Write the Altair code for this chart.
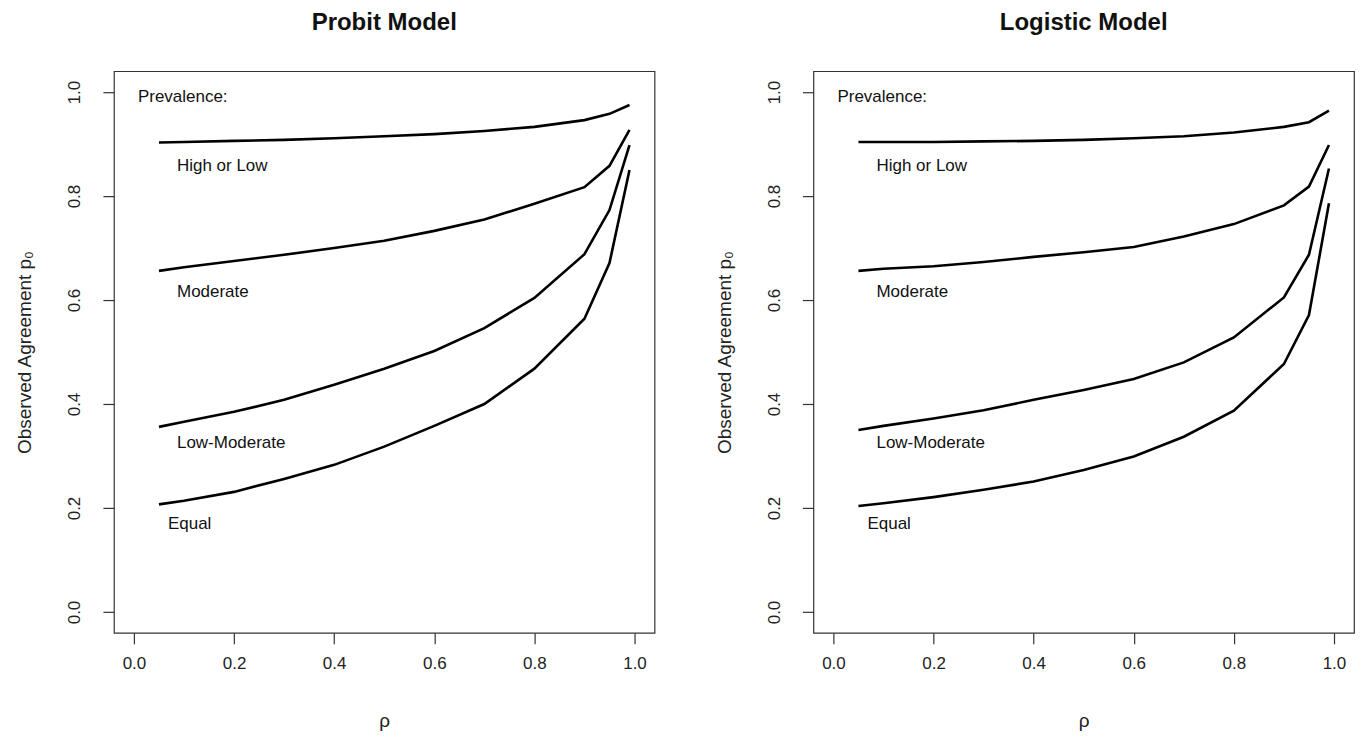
import altair as alt
import pandas as pd

# ---- data ----
rho = [0.05, 0.1, 0.2, 0.3, 0.4, 0.5, 0.6, 0.7, 0.8, 0.9, 0.95, 0.99]

series_names = ["High or Low", "Moderate", "Low-Moderate", "Equal"]

probit_high = [0.903, 0.904, 0.906, 0.908, 0.911, 0.915, 0.919, 0.925, 0.933, 0.946, 0.958, 0.975]
probit_moderate = [0.656, 0.663, 0.675, 0.687, 0.700, 0.714, 0.733, 0.755, 0.785, 0.817, 0.858, 0.927]
probit_lowmod = [0.356, 0.366, 0.385, 0.408, 0.437, 0.468, 0.502, 0.546, 0.604, 0.688, 0.773, 0.898]
probit_equal = [0.207, 0.214, 0.231, 0.256, 0.283, 0.318, 0.358, 0.400, 0.468, 0.564, 0.671, 0.850]

logit_high = [0.904, 0.904, 0.904, 0.905, 0.906, 0.908, 0.911, 0.915, 0.922, 0.933, 0.942, 0.964]
logit_moderate = [0.656, 0.660, 0.665, 0.673, 0.683, 0.692, 0.702, 0.722, 0.746, 0.782, 0.818, 0.898]
logit_lowmod = [0.350, 0.358, 0.372, 0.388, 0.408, 0.427, 0.448, 0.480, 0.528, 0.605, 0.687, 0.853]
logit_equal = [0.204, 0.209, 0.221, 0.235, 0.251, 0.273, 0.299, 0.337, 0.387, 0.477, 0.571, 0.786]

panel_titles = ["Probit Model", "Logistic Model"]

label_texts = ["Prevalence:", "High or Low", "Moderate", "Low-Moderate", "Equal"]
label_x = [0.008, 0.086, 0.086, 0.086, 0.068]
label_y = [0.99, 0.858, 0.615, 0.325, 0.169]

tick_values = [0.0, 0.2, 0.4, 0.6, 0.8, 1.0]

FONT = "Liberation Sans"


def curves_df(curves):
    rows = []
    for name, vals in zip(series_names, curves):
        for r, v in zip(rho, vals):
            rows.append({"series": name, "rho": r, "p0": v})
    return pd.DataFrame(rows)


labels_df = pd.DataFrame({"label": label_texts, "rho": label_x, "p0": label_y})

xscale = alt.Scale(domain=[-0.04, 1.04], nice=False, zero=False)
yscale = alt.Scale(domain=[-0.04, 1.04], nice=False, zero=False)

xaxis = alt.Axis(values=tick_values, format=".1f", title="ρ",
                 labelPadding=12, titlePadding=40)
yaxis = alt.Axis(values=tick_values, format=".1f", title="Observed Agreement  p\u2080",
                 labelAngle=270, labelAlign="center", labelBaseline="bottom",
                 labelPadding=19, titlePadding=31)


def panel(title, curves):
    lines = alt.Chart(curves_df(curves)).mark_line(
        color="black", strokeWidth=2.6
    ).encode(
        x=alt.X("rho:Q", scale=xscale, axis=xaxis),
        y=alt.Y("p0:Q", scale=yscale, axis=yaxis),
        detail="series:N",
    )
    texts = alt.Chart(labels_df).mark_text(
        align="left", baseline="middle", fontSize=17, font=FONT, color="#111"
    ).encode(
        x=alt.X("rho:Q", scale=xscale),
        y=alt.Y("p0:Q", scale=yscale),
        text="label:N",
    )
    return alt.layer(lines, texts).properties(
        width=541,
        height=562,
        title=alt.TitleParams(title, fontSize=24, font=FONT, fontWeight="bold",
                              color="#111", frame="group", anchor="middle", offset=36),
    )


chart = alt.hconcat(
    panel(panel_titles[0], [probit_high, probit_moderate, probit_lowmod, probit_equal]),
    panel(panel_titles[1], [logit_high, logit_moderate, logit_lowmod, logit_equal]),
    spacing=59,
).properties(
    padding={"left": 7, "top": 2, "right": 0, "bottom": 2},
    background="white",
).configure_view(
    stroke="#333", strokeWidth=1.2
).configure_axis(
    domain=False, grid=False, ticks=True, tickColor="#333", tickSize=11, tickWidth=1.2,
    labelFont=FONT, labelFontSize=17, labelColor="#222",
    titleFont=FONT, titleFontSize=19, titleFontWeight="normal", titleColor="#222",
)

chart.save("out.html", embed_options={"renderer": "svg", "actions": False})
